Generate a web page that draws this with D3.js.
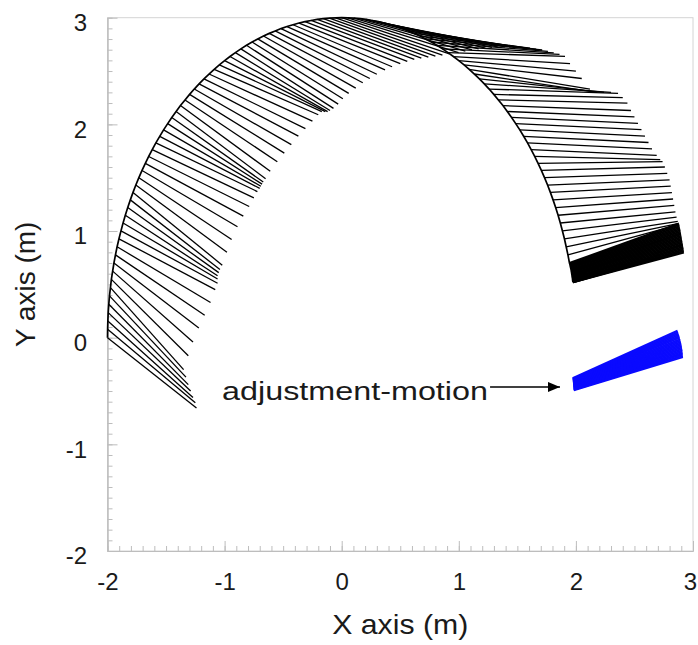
<!DOCTYPE html>
<html>
<head>
<meta charset="utf-8">
<script src="https://cdn.jsdelivr.net/npm/d3@7"></script>
<style>
  body { margin: 0; background: #fff; }
  svg { display: block; }
</style>
</head>
<body>
<div id="chart"></div>
<script>
// tick labels and titles
const xTicks = [-2, -1, 0, 1, 2, 3];
const yTicks = [-2, -1, 0, 1, 2, 3];
const xTitle = "X axis (m)";
const yTitle = "Y axis (m)";
const noteText = "adjustment-motion";

// links : [baseX, baseY, tipX, tipY]
// left side of the arc, from (-2,0) up to the top
const leftLinks = [
  [-2.000, 0.000, -1.24, -0.66], [-1.999, 0.079, -1.25, -0.61], [-1.997, 0.157, -1.27, -0.56],
  [-1.994, 0.235, -1.29, -0.50], [-1.989, 0.314, -1.31, -0.44], [-1.983, 0.392, -1.33, -0.37],
  [-1.975, 0.469, -1.35, -0.30], [-1.967, 0.547, -1.31, -0.17], [-1.956, 0.624, -1.27, -0.04],
  [-1.945, 0.700, -1.22, 0.09], [-1.932, 0.776, -1.17, 0.21], [-1.918, 0.852, -1.12, 0.33],
  [-1.902, 0.927, -1.08, 0.45], [-1.885, 1.001, -1.06, 0.51], [-1.867, 1.075, -1.06, 0.55],
  [-1.848, 1.148, -1.06, 0.58], [-1.827, 1.220, -1.05, 0.61], [-1.805, 1.292, -1.04, 0.64],
  [-1.782, 1.362, -1.02, 0.68], [-1.758, 1.431, -0.98, 0.80], [-1.732, 1.500, -0.94, 0.92],
  [-1.705, 1.568, -0.89, 1.04], [-1.677, 1.634, -0.84, 1.14], [-1.648, 1.699, -0.79, 1.23],
  [-1.618, 1.763, -0.75, 1.31], [-1.587, 1.826, -0.72, 1.37], [-1.554, 1.888, -0.70, 1.40],
  [-1.521, 1.948, -0.69, 1.42], [-1.486, 2.007, -0.68, 1.44], [-1.451, 2.065, -0.67, 1.46],
  [-1.414, 2.121, -0.65, 1.49], [-1.377, 2.176, -0.61, 1.56], [-1.338, 2.229, -0.55, 1.65],
  [-1.299, 2.281, -0.49, 1.73], [-1.259, 2.331, -0.43, 1.81], [-1.218, 2.380, -0.37, 1.89],
  [-1.176, 2.427, -0.31, 1.96], [-1.133, 2.472, -0.25, 2.03], [-1.089, 2.516, -0.20, 2.09],
  [-1.045, 2.558, -0.17, 2.12], [-1.000, 2.598, -0.14, 2.12], [-0.954, 2.636, -0.12, 2.12],
  [-0.908, 2.673, -0.10, 2.13], [-0.861, 2.708, -0.07, 2.15], [-0.813, 2.741, -0.03, 2.19],
  [-0.765, 2.772, 0.01, 2.24], [-0.717, 2.801, 0.06, 2.29], [-0.668, 2.828, 0.12, 2.34],
  [-0.618, 2.853, 0.18, 2.39], [-0.568, 2.876, 0.24, 2.43], [-0.518, 2.898, 0.30, 2.47],
  [-0.467, 2.917, 0.37, 2.51], [-0.416, 2.934, 0.43, 2.54], [-0.364, 2.950, 0.50, 2.57],
  [-0.313, 2.963, 0.56, 2.59], [-0.261, 2.974, 0.62, 2.61], [-0.209, 2.984, 0.68, 2.62],
  [-0.157, 2.991, 0.74, 2.63], [-0.105, 2.996, 0.80, 2.64], [-0.052, 2.999, 0.86, 2.65],
  [0.000, 3.000, 0.92, 2.66]
];

// top of the arc, links nearly tangent
const topLinks = [
  [0.052, 2.999, 0.998, 2.673], [0.105, 2.996, 1.056, 2.687], [0.157, 2.991, 1.113, 2.699],
  [0.209, 2.984, 1.170, 2.708], [0.261, 2.974, 1.227, 2.715], [0.313, 2.963, 1.283, 2.721],
  [0.364, 2.950, 1.338, 2.725], [0.416, 2.934, 1.394, 2.726], [0.467, 2.917, 1.449, 2.726],
  [0.518, 2.898, 1.503, 2.724], [0.568, 2.876, 1.556, 2.720], [0.618, 2.853, 1.608, 2.714],
  [0.668, 2.828, 1.661, 2.706], [0.717, 2.801, 1.712, 2.697], [0.765, 2.772, 1.761, 2.685],
  [0.813, 2.741, 1.811, 2.671], [0.861, 2.708, 1.860, 2.656], [0.908, 2.673, 1.907, 2.638]
];

// right side, links close to horizontal
const rightLinks = [
  [0.954, 2.636, 1.95, 2.57], [1.000, 2.598, 2.00, 2.50], [1.045, 2.558, 2.05, 2.43],
  [1.089, 2.516, 2.12, 2.33], [1.133, 2.472, 2.18, 2.30], [1.176, 2.427, 2.24, 2.30],
  [1.218, 2.380, 2.30, 2.30], [1.259, 2.331, 2.36, 2.29], [1.299, 2.281, 2.40, 2.25],
  [1.338, 2.229, 2.44, 2.20], [1.377, 2.176, 2.47, 2.13], [1.414, 2.121, 2.50, 2.07],
  [1.451, 2.065, 2.53, 2.01], [1.486, 2.007, 2.56, 1.95], [1.521, 1.948, 2.59, 1.89],
  [1.554, 1.888, 2.62, 1.83], [1.587, 1.826, 2.65, 1.77], [1.618, 1.763, 2.69, 1.71],
  [1.648, 1.699, 2.72, 1.67], [1.677, 1.634, 2.74, 1.65], [1.705, 1.568, 2.76, 1.60],
  [1.732, 1.500, 2.78, 1.54], [1.758, 1.431, 2.80, 1.48], [1.782, 1.362, 2.81, 1.42],
  [1.805, 1.292, 2.82, 1.36], [1.827, 1.220, 2.83, 1.30], [1.848, 1.148, 2.84, 1.24],
  [1.867, 1.075, 2.85, 1.18], [1.885, 1.001, 2.86, 1.13], [1.902, 0.927, 2.87, 1.09],
  [1.917, 0.852, 2.87, 1.07], [1.932, 0.776, 2.88, 1.06]
];

// dense fan at the end of the motion
const endFan = [
  [1.945, 0.700, 2.880, 1.070], [1.948, 0.690, 2.883, 1.058], [1.950, 0.680, 2.885, 1.045],
  [1.952, 0.670, 2.888, 1.032], [1.954, 0.660, 2.890, 1.020], [1.956, 0.650, 2.892, 1.008],
  [1.958, 0.640, 2.894, 0.995], [1.960, 0.630, 2.896, 0.982], [1.961, 0.620, 2.898, 0.970],
  [1.963, 0.610, 2.900, 0.957], [1.964, 0.600, 2.902, 0.944], [1.966, 0.590, 2.904, 0.931],
  [1.967, 0.580, 2.906, 0.918], [1.968, 0.570, 2.908, 0.905], [1.970, 0.560, 2.910, 0.892],
  [1.971, 0.550, 2.912, 0.879], [1.972, 0.540, 2.914, 0.866], [1.973, 0.530, 2.916, 0.853],
  [1.974, 0.525, 2.918, 0.840], [1.975, 0.520, 2.920, 0.826], [1.975, 0.520, 2.921, 0.812],
  [1.975, 0.520, 2.922, 0.798]
];

// blue adjustment-motion
const adjustLinks = [
  [1.972, -0.380, 2.868, 0.065], [1.973, -0.386, 2.872, 0.052], [1.973, -0.392, 2.876, 0.039],
  [1.974, -0.398, 2.880, 0.026], [1.974, -0.404, 2.884, 0.013], [1.975, -0.410, 2.887, 0.000],
  [1.975, -0.416, 2.890, -0.013], [1.976, -0.422, 2.893, -0.026], [1.976, -0.428, 2.896, -0.039],
  [1.977, -0.434, 2.899, -0.052], [1.977, -0.440, 2.901, -0.065], [1.978, -0.446, 2.903, -0.078],
  [1.978, -0.452, 2.905, -0.091], [1.979, -0.458, 2.907, -0.104], [1.979, -0.464, 2.909, -0.117],
  [1.980, -0.470, 2.910, -0.130], [1.980, -0.476, 2.911, -0.143], [1.981, -0.482, 2.912, -0.156],
  [1.981, -0.488, 2.913, -0.169], [1.982, -0.494, 2.914, -0.182]
];

const W = 698, H = 645;
const font = "'Liberation Sans', Arial, Helvetica, sans-serif";
const axisGrey = "#bdbdbd";

const svg = d3.select("#chart").append("svg")
  .attr("width", W)
  .attr("height", H);

const x = d3.scaleLinear().domain([-2, 3]).range([107.5, 693]);
const y = d3.scaleLinear().domain([-2, 3]).range([551, 17.7]);

//------cadre
svg.append("rect")
  .attr("x", x(-2))
  .attr("y", y(3))
  .attr("width", x(3) - x(-2))
  .attr("height", y(-2) - y(3))
  .attr("fill", "none")
  .attr("stroke", "#d4d4d4");

//------axes (ticks vers l'intérieur)
const minor = d3.range(-20, 31).map(d => d / 10);

const gx = svg.append("g").attr("transform", `translate(0,${y(-2)})`);
gx.call(d3.axisBottom(x).tickValues(minor).tickSize(-5).tickSizeOuter(0).tickFormat(""));
gx.append("g")
  .call(d3.axisBottom(x).tickValues(xTicks).tickSize(-10).tickSizeOuter(0).tickPadding(22).tickFormat(d => String(d)));
// le "3" est collé au bord droit
gx.selectAll(".tick text").filter(d => d === 3).attr("dx", -3);

const gy = svg.append("g").attr("transform", `translate(${x(-2)},0)`);
gy.call(d3.axisLeft(y).tickValues(minor).tickSize(-5).tickSizeOuter(0).tickFormat(""));
gy.append("g")
  .call(d3.axisLeft(y).tickValues(yTicks).tickSize(-10).tickSizeOuter(0).tickPadding(20.5).tickFormat(d => String(d)));
gy.selectAll(".tick text").attr("dy", "0.54em");

svg.selectAll(".domain, .tick line").attr("stroke", axisGrey);
svg.selectAll(".tick text")
  .attr("font-family", font)
  .attr("font-size", 24)
  .attr("fill", "#1a1a1a");

//------bras (noir)
const blackLinks = leftLinks.concat(topLinks, rightLinks);

svg.append("g")
  .selectAll("line")
  .data(blackLinks)
  .join("line")
  .attr("x1", d => x(d[0]))
  .attr("y1", d => y(d[1]))
  .attr("x2", d => x(d[2]))
  .attr("y2", d => y(d[3]))
  .attr("stroke", "#000")
  .attr("stroke-width", 1.3);

svg.append("g")
  .selectAll("line")
  .data(endFan)
  .join("line")
  .attr("x1", d => x(d[0]))
  .attr("y1", d => y(d[1]))
  .attr("x2", d => x(d[2]))
  .attr("y2", d => y(d[3]))
  .attr("stroke", "#000")
  .attr("stroke-width", 2);

//------trajectoire de la base
svg.append("path")
  .datum(blackLinks.concat(endFan))
  .attr("fill", "none")
  .attr("stroke", "#000")
  .attr("stroke-width", 1.7)
  .attr("d", d3.line().x(d => x(d[0])).y(d => y(d[1])));

//------adjustment-motion (bleu)
svg.append("g")
  .selectAll("line")
  .data(adjustLinks)
  .join("line")
  .attr("x1", d => x(d[0]))
  .attr("y1", d => y(d[1]))
  .attr("x2", d => x(d[2]))
  .attr("y2", d => y(d[3]))
  .attr("stroke", "#0a0aff")
  .attr("stroke-width", 2);

//------annotation + flèche
svg.append("defs").append("marker")
  .attr("id", "arrow")
  .attr("markerUnits", "userSpaceOnUse")
  .attr("markerWidth", 12)
  .attr("markerHeight", 10)
  .attr("refX", 12)
  .attr("refY", 5)
  .attr("orient", "auto")
  .append("path")
  .attr("d", "M0,0 L12,5 L0,10 Z")
  .attr("fill", "#000");

svg.append("line")
  .attr("x1", x(1.267))
  .attr("y1", y(-0.462))
  .attr("x2", x(1.864))
  .attr("y2", y(-0.462))
  .attr("stroke", "#000")
  .attr("stroke-width", 1.5)
  .attr("marker-end", "url(#arrow)");

svg.append("text")
  .attr("x", x(-1.022))
  .attr("y", y(-0.583))
  .attr("font-family", font)
  .attr("font-size", 25)
  .attr("textLength", 266)
  .attr("lengthAdjust", "spacingAndGlyphs")
  .attr("fill", "#1a1a1a")
  .text(noteText);

//------titres des axes
svg.append("text")
  .attr("x", (x(-2) + x(3)) / 2)
  .attr("y", 634)
  .attr("text-anchor", "middle")
  .attr("font-family", font)
  .attr("font-size", 28)
  .attr("textLength", 136)
  .attr("lengthAdjust", "spacingAndGlyphs")
  .attr("fill", "#1a1a1a")
  .text(xTitle);

svg.append("text")
  .attr("transform", `translate(35,${(y(-2) + y(3)) / 2}) rotate(-90)`)
  .attr("text-anchor", "middle")
  .attr("font-family", font)
  .attr("font-size", 28)
  .attr("fill", "#1a1a1a")
  .text(yTitle);
</script>
</body>
</html>
